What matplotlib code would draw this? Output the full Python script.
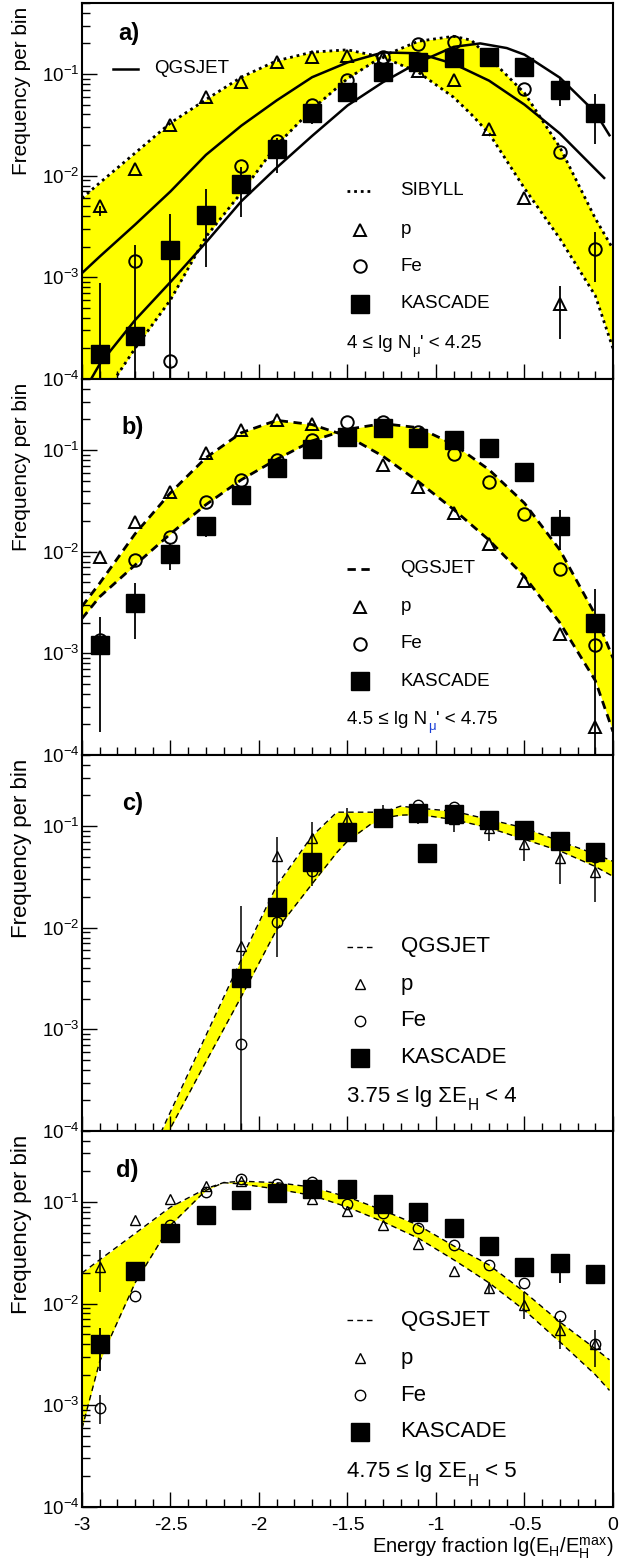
import numpy as np
import matplotlib
matplotlib.use("Agg")
import matplotlib.pyplot as plt
from matplotlib.ticker import LogLocator, FuncFormatter, MultipleLocator, NullFormatter

plt.rcParams['font.family'] = ['Liberation Sans', 'DejaVu Sans']
plt.rcParams['mathtext.fontset'] = 'custom'
plt.rcParams['mathtext.rm'] = 'Liberation Sans'
plt.rcParams['mathtext.it'] = 'Liberation Sans:italic'
plt.rcParams['mathtext.bf'] = 'Liberation Sans:bold'
plt.rcParams['axes.unicode_minus'] = False

nan = np.nan
bins = [-2.9, -2.7, -2.5, -2.3, -2.1, -1.9, -1.7, -1.5, -1.3, -1.1, -0.9, -0.7, -0.5, -0.3, -0.1]

# ---------- a) 4 <= lg Nmu' < 4.25 ----------
a_p = [5.0e-3, 0.0117, 0.0315, 0.059, 0.083, 0.13, 0.148, 0.152, 0.145, 0.108, 0.087, 0.029, 6.0e-3, 5.5e-4, nan]
a_fe = [nan, 1.45e-3, 1.5e-4, nan, 0.0125, 0.022, 0.05, 0.088, 0.148, 0.198, 0.206, nan, 0.071, 0.017, 1.9e-3]
a_kas = [1.75e-4, 2.65e-4, 1.85e-3, 4.1e-3, 8.2e-3, 0.0183, 0.0417, 0.066, 0.104, 0.13, 0.145, 0.148, 0.118, 0.07, 0.0415]
a_kas_lo = [1e-5, 1e-5, 1e-5, 1.26e-3, 3.9e-3, 0.0106, 0.032, nan, nan, nan, nan, nan, nan, 0.049, 0.0203]
a_kas_hi = [8.7e-4, 2.1e-3, 4.2e-3, 7.4e-3, 0.0123, 0.0235, 0.05, nan, nan, nan, nan, nan, nan, 0.093, 0.064]
a_fe_lo = [nan] * 14 + [8.9e-4]
a_fe_hi = [nan] * 14 + [2.8e-3]
a_p_lo = [4.0e-3] + [nan] * 12 + [2.5e-4, nan]
a_p_hi = [5.0e-3] + [nan] * 12 + [8.3e-4, nan]

a_qgs_p_x = [-3.0, -2.9, -2.7, -2.5, -2.3, -2.1, -1.9, -1.7, -1.5, -1.3, -1.1, -0.9, -0.7, -0.5, -0.3, -0.05]
a_qgs_p = [1.1e-3, 1.6e-3, 3.3e-3, 7.0e-3, 0.016, 0.031, 0.055, 0.093, 0.13, 0.163, 0.16, 0.126, 0.086, 0.05, 0.026, 9.5e-3]
a_qgs_fe_x = [-3.0, -2.9, -2.7, -2.5, -2.3, -2.1, -1.9, -1.7, -1.5, -1.3, -1.1, -0.9, -0.75, -0.6, -0.5, -0.3, -0.1, -0.02]
a_qgs_fe = [7e-5, 1.4e-4, 3.8e-4, 9e-4, 2.2e-3, 5.6e-3, 0.012, 0.0246, 0.049, 0.083, 0.13, 0.185, 0.2, 0.18, 0.155, 0.092, 0.042, 0.025]
a_sib_x = [-3.0, -2.9, -2.7, -2.5, -2.3, -2.1, -1.9, -1.7, -1.5, -1.3, -1.1, -0.9, -0.8, -0.7, -0.5, -0.3, -0.1, 0.0]
a_sib_p = [6.0e-3, 8.5e-3, 0.0167, 0.033, 0.056, 0.093, 0.135, 0.164, 0.173, 0.146, 0.104, 0.059, 0.04, 0.026, 7.5e-3, 2.4e-3, 6.6e-4, 2.0e-4]
a_sib_fe = [3e-5, 6e-5, 2e-4, 6e-4, 2.5e-3, 6.8e-3, 0.02, 0.045, 0.09, 0.15, 0.21, 0.235, 0.215, 0.145, 0.065, 0.019, 3.8e-3, 1.9e-3]

# ---------- b) 4.5 <= lg Nmu' < 4.75 ----------
b_p = [8.9e-3, 0.0194, 0.039, 0.094, 0.157, 0.198, 0.182, 0.13, 0.072, 0.043, 0.024, 0.012, 5.1e-3, 1.55e-3, 1.9e-4]
b_fe = [1.36e-3, 8.3e-3, 0.0141, 0.0306, 0.051, 0.079, 0.126, 0.19, 0.187, 0.152, 0.092, 0.049, 0.0236, 6.8e-3, 1.2e-3]
b_kas = [1.2e-3, 3.1e-3, 9.4e-3, 0.0177, 0.0358, 0.067, 0.102, 0.134, 0.163, 0.131, 0.125, 0.104, 0.061, 0.018, 2.0e-3]
b_kas_lo = [1.7e-4, 1.38e-3, 6.6e-3, 0.014, nan, nan, nan, nan, nan, nan, nan, nan, 0.049, 0.0104, 1e-5]
b_kas_hi = [2.3e-3, 4.9e-3, 0.012, 0.022, nan, nan, nan, nan, nan, nan, nan, nan, 0.072, 0.026, 4.3e-3]

b_qgs_x = [-3.0, -2.9, -2.7, -2.5, -2.3, -2.1, -1.9, -1.7, -1.5, -1.3, -1.1, -0.9, -0.7, -0.5, -0.3, -0.1, 0.0]
b_qgs_p = [2.9e-3, 4.9e-3, 0.015, 0.038, 0.084, 0.148, 0.196, 0.178, 0.137, 0.087, 0.049, 0.026, 0.013, 5.7e-3, 2.0e-3, 5.4e-4, 1.7e-4]
b_qgs_fe = [2.2e-3, 3.6e-3, 7.4e-3, 0.015, 0.029, 0.051, 0.081, 0.123, 0.16, 0.182, 0.166, 0.114, 0.064, 0.030, 0.0104, 2.4e-3, 9e-4]

# ---------- c) 3.75 <= lg SumE_H < 4 ----------
c_p = [nan, nan, nan, nan, 6.6e-3, 0.051, 0.077, 0.118, 0.125, 0.125, 0.118, 0.096, 0.067, 0.049, 0.035]
c_fe = [nan, nan, nan, nan, 7.2e-4, 0.0114, 0.036, 0.09, 0.13, 0.16, 0.154, 0.12, 0.09, 0.068, 0.05]
c_p_lo = [nan, nan, nan, nan, 1e-5, 5.2e-3, 0.026, 0.089, 0.1, 0.105, 0.087, 0.071, 0.045, 0.027, 0.018]
c_p_hi = [nan, nan, nan, nan, 0.0163, 0.0785, 0.11, 0.15, 0.16, 0.15, 0.15, 0.12, 0.086, 0.069, 0.047]
c_kas_x = [-2.1, -1.9, -1.7, -1.5, -1.3, -1.1, -1.05, -0.9, -0.7, -0.5, -0.3, -0.1]
c_kas = [3.2e-3, 0.016, 0.044, 0.087, 0.12, 0.133, 0.054, 0.13, 0.114, 0.091, 0.071, 0.055]

c_qgs_x = [-2.6, -2.5, -2.3, -2.1, -1.9, -1.7, -1.56, -1.5, -1.37, -1.3, -1.2, -1.1, -0.9, -0.7, -0.5, -0.3, -0.1, 0.0]
c_qgs_p = [6.5e-5, 1.55e-4, 8.7e-4, 4.9e-3, 0.026, 0.08, 0.137, 0.137, 0.137, 0.137, 0.157, 0.15, 0.14, 0.116, 0.096, 0.071, 0.053, 0.045]
c_qgs_fe = [5.1e-5, 1.07e-4, 4.8e-4, 2.1e-3, 9.6e-3, 0.027, 0.055, 0.071, 0.104, 0.12, 0.128, 0.13, 0.116, 0.096, 0.074, 0.057, 0.04, 0.032]

# ---------- d) 4.75 <= lg SumE_H < 5 ----------
d_p = [0.023, 0.066, 0.108, 0.144, 0.16, 0.14, 0.106, 0.081, 0.059, 0.039, 0.021, 0.0142, 9.8e-3, 5.5e-3, 4.0e-3]
d_fe = [9.5e-4, 0.012, 0.059, 0.125, 0.17, 0.15, 0.157, 0.096, 0.077, 0.056, 0.038, 0.024, 0.016, 7.6e-3, 4.0e-3]
d_kas = [4.0e-3, 0.021, 0.05, 0.075, 0.104, 0.123, 0.133, 0.133, 0.096, 0.08, 0.055, 0.037, 0.023, 0.025, 0.0195]
d_p_lo = [0.013] + [nan] * 10 + [0.0125, 7.1e-3, 3.6e-3, 2.4e-3]
d_p_hi = [0.0335] + [nan] * 10 + [0.0165, 0.013, 7.1e-3, 5.5e-3]
d_fe_lo = [6.5e-4] + [nan] * 14
d_fe_hi = [1.26e-3] + [nan] * 14
d_kas_lo = [2.15e-3] + [nan] * 12 + [0.016, nan]
d_kas_hi = [5.7e-3] + [nan] * 12 + [0.031, nan]

d_qgs_x = [-3.0, -2.9, -2.7, -2.5, -2.3, -2.2, -2.1, -1.9, -1.7, -1.5, -1.3, -1.1, -0.9, -0.7, -0.5, -0.3, -0.1, -0.02]
d_qgs_p = [0.02, 0.027, 0.049, 0.089, 0.135, 0.155, 0.16, 0.155, 0.14, 0.112, 0.083, 0.059, 0.037, 0.024, 0.013, 6.6e-3, 3.6e-3, 2.8e-3]
d_qgs_fe = [5.9e-4, 2.7e-3, 0.016, 0.059, 0.13, 0.155, 0.15, 0.134, 0.116, 0.089, 0.064, 0.044, 0.027, 0.016, 8.6e-3, 4.2e-3, 2.0e-3, 1.4e-3]

YELLOW = '#ffff00'
x_ticks = [-3, -2.5, -2, -1.5, -1, -0.5, 0]
x_tick_labels = ['-3', '-2.5', '-2', '-1.5', '-1', '-0.5', '0']

fig = plt.figure(figsize=(6.38, 15.59), dpi=100)
L, W, H = 0.1285, 0.8323, 0.2412
bottoms = [0.7569, 0.5157, 0.2745, 0.0334]
axes = [fig.add_axes([L, b, W, H]) for b in bottoms]


def setup(ax, last, ylab_fs):
    ax.set_yscale('log')
    ax.set_xlim(-3, 0)
    ax.set_ylim(1e-4, 0.5)
    ax.xaxis.set_major_locator(MultipleLocator(0.5))
    ax.xaxis.set_minor_locator(MultipleLocator(0.1))
    ax.yaxis.set_major_locator(LogLocator(base=10, numticks=10))
    ax.yaxis.set_minor_locator(LogLocator(base=10, subs=np.arange(2, 10), numticks=20))
    ax.yaxis.set_minor_formatter(NullFormatter())
    ax.yaxis.set_major_formatter(FuncFormatter(lambda v, _: r'$10^{%d}$' % round(np.log10(v))))
    ax.tick_params(which='major', direction='in', length=11, width=1, top=False, right=False,
                   labelsize=13.5, pad=2)
    ax.tick_params(which='minor', direction='in', length=5.5, width=1, top=False, right=False)
    for s in ax.spines.values():
        s.set_linewidth(1.5)
    if last:
        ax.set_xticks(x_ticks)
        ax.set_xticklabels(x_tick_labels, fontsize=14)
        ax.tick_params(axis='x', pad=7)
        ax.text(1.0, -0.11, r'Energy fraction lg(E$_{\rm H}$/E$_{\rm H}^{\rm max}$)',
                transform=ax.transAxes, ha='right', va='center', fontsize=14.5)
    else:
        ax.tick_params(axis='x', labelbottom=False)
    ax.text(-0.113, 0.99, 'Frequency per bin', transform=ax.transAxes, rotation=90,
            ha='center', va='top', fontsize=ylab_fs)


def errs(ax, x, lo, hi, lw=1.3):
    for xi, l, h in zip(x, lo, hi):
        if not (np.isnan(l) or np.isnan(h)):
            ax.plot([xi, xi], [l, h], color='k', lw=lw, zorder=3, solid_capstyle='butt')


def markers(ax, p, fe, kas_x, kas, small):
    ms_o = 9 if not small else 7.5
    mew = 1.4 if not small else 1.0
    ax.plot(bins, p, ls='none', marker='^', ms=ms_o, mfc='none', mec='k', mew=mew, zorder=4)
    ax.plot(bins, fe, ls='none', marker='o', ms=ms_o, mfc='none', mec='k', mew=mew, zorder=4)
    ax.plot(kas_x, kas, ls='none', marker='s', ms=12.5, mfc='k', mec='k', zorder=5)


def cond_text(ax, y, pre, sub, post, fs, sub_color='k'):
    # text with a subscript in the middle, built from three pieces
    t1 = ax.text(0.50, y, pre, transform=ax.transAxes, ha='left', va='bottom', fontsize=fs)
    t2 = ax.annotate(sub, xy=(1, 0), xycoords=t1, xytext=(0.5, -fs * 0.28), textcoords='offset points',
                     ha='left', va='bottom', fontsize=fs * 0.7, color=sub_color)
    ax.annotate(post, xy=(1, 0), xycoords=(t2, t1), ha='left', va='bottom', fontsize=fs)


def legend(ax, rows, fs, small, line_style=None, line_lw=1.0):
    tr = ax.transAxes
    ms_o = 9 if not small else 7.5
    mew = 1.4 if not small else 1.0
    for kind, label, y in rows:
        if kind == 'line':
            ax.plot([0.50, 0.548], [y, y], transform=tr, color='k', lw=line_lw, ls=line_style)
        elif kind == 'p':
            ax.plot([0.523], [y], transform=tr, marker='^', ms=ms_o, mfc='none', mec='k', mew=mew)
        elif kind == 'fe':
            ax.plot([0.523], [y], transform=tr, marker='o', ms=ms_o, mfc='none', mec='k', mew=mew)
        elif kind == 'kas':
            ax.plot([0.523], [y], transform=tr, marker='s', ms=12.5, mfc='k', mec='k')
        ax.text(0.60, y, label, transform=tr, ha='left', va='center', fontsize=fs)


# ---- panel a ----
ax = axes[0]
setup(ax, False, 15)
ax.fill_between(a_sib_x, a_sib_p, a_sib_fe, color=YELLOW, lw=0, zorder=1)
ax.plot(a_sib_x, a_sib_p, color='k', lw=2, ls=(0, (1, 1.4)), zorder=2)
ax.plot(a_sib_x, a_sib_fe, color='k', lw=2, ls=(0, (1, 1.4)), zorder=2)
ax.plot(a_qgs_p_x, a_qgs_p, color='k', lw=1.8, zorder=2)
ax.plot(a_qgs_fe_x, a_qgs_fe, color='k', lw=1.8, zorder=2)
errs(ax, bins, a_kas_lo, a_kas_hi)
errs(ax, bins, a_fe_lo, a_fe_hi)
errs(ax, bins, a_p_lo, a_p_hi)
markers(ax, a_p, a_fe, bins, a_kas, False)
ax.plot([0.058, 0.105], [0.825, 0.825], transform=ax.transAxes, color='k', lw=1.8)
ax.text(0.136, 0.825, 'QGSJET', transform=ax.transAxes, ha='left', va='center', fontsize=13.5)
legend(ax, [('line', 'SIBYLL', 0.50), ('p', 'p', 0.397), ('fe', 'Fe', 0.30), ('kas', 'KASCADE', 0.20)],
       13.5, False, line_style=(0, (1, 1.4)), line_lw=2)
cond_text(ax, 0.072, '4 ≤ lg N', 'μ', "' < 4.25", 13.5)
ax.text(0.068, 0.92, 'a)', transform=ax.transAxes, ha='left', va='center', fontsize=17, fontweight='bold')

# ---- panel b ----
ax = axes[1]
setup(ax, False, 15)
ax.fill_between(b_qgs_x, b_qgs_p, b_qgs_fe, color=YELLOW, lw=0, zorder=1)
ax.plot(b_qgs_x, b_qgs_p, color='k', lw=2, ls=(0, (3, 2)), zorder=2)
ax.plot(b_qgs_x, b_qgs_fe, color='k', lw=2, ls=(0, (3, 2)), zorder=2)
errs(ax, bins, b_kas_lo, b_kas_hi)
markers(ax, b_p, b_fe, bins, b_kas, False)
legend(ax, [('line', 'QGSJET', 0.495), ('p', 'p', 0.394), ('fe', 'Fe', 0.296), ('kas', 'KASCADE', 0.196)],
       13.5, False, line_style=(0, (3, 2)), line_lw=2)
cond_text(ax, 0.072, '4.5 ≤ lg N', 'μ', "' < 4.75", 13.5, sub_color='#1a3fd6')
ax.text(0.075, 0.872, 'b)', transform=ax.transAxes, ha='left', va='center', fontsize=17, fontweight='bold')

# ---- panel c ----
ax = axes[2]
setup(ax, False, 16)
ax.fill_between(c_qgs_x, c_qgs_p, c_qgs_fe, color=YELLOW, lw=0, zorder=1)
ax.plot(c_qgs_x, c_qgs_p, color='k', lw=1, ls=(0, (4, 3)), zorder=2)
ax.plot(c_qgs_x, c_qgs_fe, color='k', lw=1, ls=(0, (4, 3)), zorder=2)
errs(ax, bins, c_p_lo, c_p_hi, lw=1.1)
markers(ax, c_p, c_fe, c_kas_x, c_kas, True)
legend(ax, [('line', 'QGSJET', 0.49), ('p', 'p', 0.39), ('fe', 'Fe', 0.294), ('kas', 'KASCADE', 0.195)],
       16, True, line_style=(0, (4, 3)), line_lw=1)
cond_text(ax, 0.064, '3.75 ≤ lg ΣE', 'H', ' < 4', 16)
ax.text(0.075, 0.872, 'c)', transform=ax.transAxes, ha='left', va='center', fontsize=17, fontweight='bold')

# ---- panel d ----
ax = axes[3]
setup(ax, True, 16)
ax.fill_between(d_qgs_x, d_qgs_p, d_qgs_fe, color=YELLOW, lw=0, zorder=1)
ax.plot(d_qgs_x, d_qgs_p, color='k', lw=1, ls=(0, (4, 3)), zorder=2)
ax.plot(d_qgs_x, d_qgs_fe, color='k', lw=1, ls=(0, (4, 3)), zorder=2)
errs(ax, bins, d_p_lo, d_p_hi, lw=1.1)
errs(ax, bins, d_fe_lo, d_fe_hi, lw=1.1)
errs(ax, bins, d_kas_lo, d_kas_hi, lw=1.3)
markers(ax, d_p, d_fe, bins, d_kas, True)
legend(ax, [('line', 'QGSJET', 0.496), ('p', 'p', 0.396), ('fe', 'Fe', 0.297), ('kas', 'KASCADE', 0.20)],
       16, True, line_style=(0, (4, 3)), line_lw=1)
cond_text(ax, 0.065, '4.75 ≤ lg ΣE', 'H', ' < 5', 16)
ax.text(0.064, 0.896, 'd)', transform=ax.transAxes, ha='left', va='center', fontsize=17, fontweight='bold')

fig.savefig('out.png', dpi=100)
